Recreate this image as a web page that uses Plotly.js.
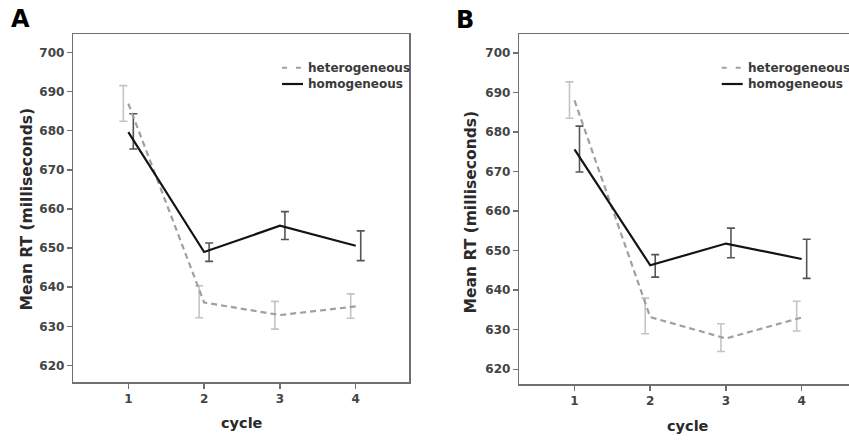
<!DOCTYPE html>
<html><head><meta charset="utf-8">
<script src="https://cdn.plot.ly/plotly-3.0.1.min.js"></script>
<style>html,body{margin:0;padding:0;background:#fff;} #chart{width:849px;height:441px;}</style>
</head><body><div id="chart"></div>
<script>
const cycles = [1, 2, 3, 4];
const seriesNames = ['heterogeneous', 'homogeneous'];
const panelLabels = ['A', 'B'];
const xTitle = 'cycle';
const yTitle = 'Mean RT (milliseconds)';
const yTicks = [620, 630, 640, 650, 660, 670, 680, 690, 700];

// Panel A
const aHetMean = [686.9, 636.1, 632.9, 635.1];
const aHetLow  = [682.4, 632.2, 629.3, 632.1];
const aHetHigh = [691.5, 640.4, 636.4, 638.3];
const aHomMean = [679.6, 649.0, 655.7, 650.6];
const aHomLow  = [675.3, 646.6, 652.2, 646.8];
const aHomHigh = [684.3, 651.3, 659.3, 654.4];

// Panel B
const bHetMean = [688.0, 633.2, 627.8, 633.1];
const bHetLow  = [683.5, 629.0, 624.5, 629.7];
const bHetHigh = [692.7, 638.0, 631.5, 637.2];
const bHomMean = [675.6, 646.3, 651.8, 647.9];
const bHomLow  = [669.9, 643.3, 648.2, 643.0];
const bHomHigh = [681.5, 649.0, 655.7, 652.9];

const W = 849, H = 441;
const DODGE = 0.066;
const FONT = 'DejaVu Sans';
const HET_LINE = '#a0a0a0', HOM_LINE = '#141414';
const HET_ERR = '#c4c4c4', HOM_ERR = '#555555';
const FRAME = '#707070';

function mid(lo, hi) { return lo.map((v, i) => (v + hi[i]) / 2); }

function panelTraces(xa, ya, hetMean, hetLow, hetHigh, homMean, homLow, homHigh) {
  const hetC = mid(hetLow, hetHigh), homC = mid(homLow, homHigh);
  return [
    {x: cycles.map(c => c - DODGE), y: hetC, xaxis: xa, yaxis: ya, mode: 'markers',
     marker: {size: 1, opacity: 0}, showlegend: false, hoverinfo: 'skip',
     error_y: {type: 'data', symmetric: false,
       array: hetHigh.map((v, i) => v - hetC[i]), arrayminus: hetC.map((v, i) => v - hetLow[i]),
       color: HET_ERR, thickness: 1.6, width: 4}},
    {x: cycles.map(c => c + DODGE), y: homC, xaxis: xa, yaxis: ya, mode: 'markers',
     marker: {size: 1, opacity: 0}, showlegend: false, hoverinfo: 'skip',
     error_y: {type: 'data', symmetric: false,
       array: homHigh.map((v, i) => v - homC[i]), arrayminus: homC.map((v, i) => v - homLow[i]),
       color: HOM_ERR, thickness: 1.6, width: 4}},
    {x: cycles, y: hetMean, xaxis: xa, yaxis: ya, mode: 'lines', name: seriesNames[0],
     line: {color: HET_LINE, width: 2.2, dash: '6px,4px'}, showlegend: false},
    {x: cycles, y: homMean, xaxis: xa, yaxis: ya, mode: 'lines', name: seriesNames[1],
     line: {color: HOM_LINE, width: 2.2}, showlegend: false}
  ];
}

const data = [].concat(
  panelTraces('x', 'y', aHetMean, aHetLow, aHetHigh, aHomMean, aHomLow, aHomHigh),
  panelTraces('x2', 'y2', bHetMean, bHetLow, bHetHigh, bHomMean, bHomLow, bHomHigh)
);

function px(x) { return x / W; }
function py(y) { return 1 - y / H; }

const tickFont = {family: FONT, size: 12, color: '#444', weight: 'bold'};
function xAxis(domain, range, mirror) {
  return {domain: domain, range: range, tickvals: cycles, ticktext: cycles.map(String),
    ticks: 'outside', ticklen: 5, tickwidth: 1.5, tickcolor: FRAME,
    showline: true, linecolor: FRAME, linewidth: 1.5, mirror: mirror,
    showgrid: false, zeroline: false, tickfont: tickFont, fixedrange: true};
}
function yAxis(domain, range, mirror, anchor) {
  return {domain: domain, range: range, tickvals: yTicks, ticktext: yTicks.map(String),
    ticks: 'outside', ticklen: 5, tickwidth: 1.5, tickcolor: FRAME,
    showline: true, linecolor: FRAME, linewidth: 1.5, mirror: mirror, anchor: anchor,
    showgrid: false, zeroline: false, tickfont: tickFont, fixedrange: true};
}

const panels = [
  {left: 73.3, right: 409.3, top: 34.3, bottom: 382, labelX: 20, labelY: 19,
   yTitleX: 26, yTitleY: 209.5, xTitleX: 242, xTitleY: 423, legX: 282, legTextX: 305.5},
  {left: 519.3, right: 849, top: 34.3, bottom: 384.3, labelX: 465, labelY: 19.5,
   yTitleX: 470.7, yTitleY: 211.7, xTitleX: 688, xTitleY: 426, legX: 721.7, legTextX: 745.5}
];

const layout = {
  width: W, height: H, margin: {l: 0, r: 0, t: 0, b: 0},
  paper_bgcolor: '#fff', plot_bgcolor: '#fff', showlegend: false,
  xaxis: xAxis([px(panels[0].left), px(panels[0].right)], [0.274, 4.707], true),
  yaxis: yAxis([py(panels[0].bottom), py(panels[0].top)], [615.8, 704.6], true, 'x'),
  xaxis2: xAxis([px(panels[1].left), 1], [0.271, 4.625], true),
  yaxis2: yAxis([py(panels[1].bottom), py(panels[1].top)], [616.2, 704.73], false, 'x2'),
  annotations: [], shapes: []
};
layout.xaxis2.anchor = 'y2';

panels.forEach((p, i) => {
  layout.annotations.push(
    {xref: 'paper', yref: 'paper', x: px(p.labelX), y: py(p.labelY), text: '<b>' + panelLabels[i] + '</b>',
     showarrow: false, xanchor: 'center', yanchor: 'middle', font: {family: FONT, size: 24, color: '#000'}},
    {xref: 'paper', yref: 'paper', x: px(p.yTitleX), y: py(p.yTitleY), text: '<b>' + yTitle + '</b>',
     textangle: -90, showarrow: false, xanchor: 'center', yanchor: 'middle', font: {family: FONT, size: 15.5, color: '#2a2a2a'}},
    {xref: 'paper', yref: 'paper', x: px(p.xTitleX), y: py(p.xTitleY), text: '<b>' + xTitle + '</b>',
     showarrow: false, xanchor: 'center', yanchor: 'middle', font: {family: FONT, size: 14.5, color: '#2a2a2a'}},
    {xref: 'paper', yref: 'paper', x: px(p.legTextX), y: py(67.7), text: '<b>' + seriesNames[0] + '</b>',
     showarrow: false, xanchor: 'left', yanchor: 'middle', font: {family: FONT, size: 12, color: '#3a3a3a'}},
    {xref: 'paper', yref: 'paper', x: px(p.legTextX), y: py(84), text: '<b>' + seriesNames[1] + '</b>',
     showarrow: false, xanchor: 'left', yanchor: 'middle', font: {family: FONT, size: 12, color: '#3a3a3a'}}
  );
  layout.shapes.push(
    {type: 'line', xref: 'paper', yref: 'paper', x0: px(p.legX), x1: px(p.legX + 21), y0: py(67.7), y1: py(67.7),
     line: {color: HET_LINE, width: 2, dash: '5px,9px'}},
    {type: 'line', xref: 'paper', yref: 'paper', x0: px(p.legX), x1: px(p.legX + 21), y0: py(84), y1: py(84),
     line: {color: HOM_LINE, width: 2.2}}
  );
});

Plotly.newPlot('chart', data, layout, {displayModeBar: false, staticPlot: true});
</script>
</body></html>
